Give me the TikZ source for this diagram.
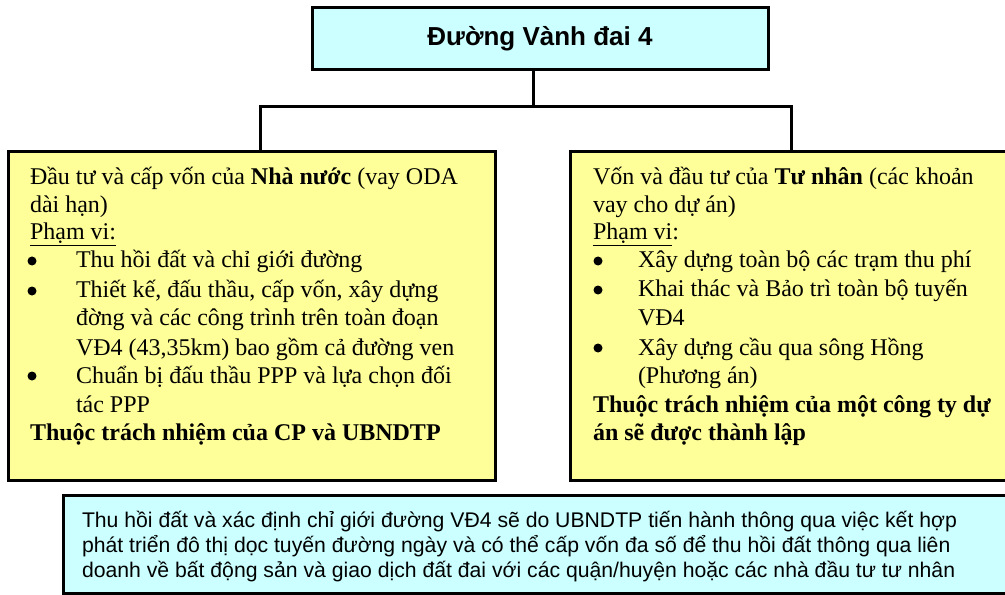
\documentclass[tikz,border=0pt]{standalone}
\usepackage{fontspec}
\setmainfont{Liberation Serif}
\setsansfont{Liberation Sans}
\definecolor{boxcyan}{HTML}{CCFFFF}
\definecolor{boxyellow}{HTML}{FFFF99}
\tikzset{
  frame/.style={draw=black, line width=3bp, inner sep=0pt, outer sep=0pt},
  conn/.style={draw=black, line width=3bp},
  ln/.style={anchor=base west, inner sep=0pt, outer sep=0pt, font=\fontsize{24bp}{28bp}\selectfont},
  dot/.style={circle, fill=black, draw=none, inner sep=0pt, outer sep=0pt, minimum size=9bp},
  sl/.style={anchor=base west, inner sep=0pt, outer sep=0pt, font=\sffamily\fontsize{21.2bp}{25bp}\selectfont},
}
\newcommand{\ul}[1]{\underline{#1}}
\begin{document}
\begin{tikzpicture}[x=1bp,y=-1bp]
\useasboundingbox (0,0) rectangle (1005,595);
% boxes
\node[frame, fill=boxcyan, minimum width=456bp, minimum height=62bp] (top) at (540,39) {};
\node[anchor=base, inner sep=0pt, font=\sffamily\bfseries\fontsize{26bp}{30bp}\selectfont] (title) at (540,46) {Đường Vành đai 4};
\node[frame, fill=boxyellow, minimum width=487bp, minimum height=328bp, anchor=north west] (left) at (8,152) {};
\node[frame, fill=boxyellow, minimum width=445bp, minimum height=328bp, anchor=north west] (right) at (570,152) {};
\node[frame, fill=boxcyan, minimum width=955bp, minimum height=98bp, anchor=north west] (bot) at (63,495) {};
% connectors
\coordinate (j) at (533,107);
\coordinate (jl) at (260,107);
\coordinate (jr) at (791,107);
\draw[conn] (j |- top.south) -- (j);
\draw[conn] (jl |- left.north) -- (jl) -- (jr) -- (jr |- right.north);
% left text
\node[ln] (l1) at (30,185) {Đầu tư và cấp vốn của \textbf{Nhà nước} (vay ODA};
\node[ln] (l2) at (30,213) {dài hạn)};
\node[ln] (l3) at (30,240) {\ul{Phạm vi:}};
\node[dot] (lb1) at (32,261) {};
\node[ln] (l4) at (76,268) {Thu hồi đất và chỉ giới đường};
\node[dot] (lb2) at (32,291) {};
\node[ln] (l5) at (76,298) {Thiết kế, đấu thầu, cấp vốn, xây dựng};
\node[dot] (lb3) at (32,376) {};
\node[ln] (l6) at (76,325) {đờng và các công trình trên toàn đoạn};
\node[ln] (l7) at (76,355) {VĐ4 (43,35km) bao gồm cả đường ven};
\node[ln] (l8) at (76,383) {Chuẩn bị đấu thầu PPP và lựa chọn đối};
\node[ln] (l9) at (76,412) {tác PPP};
\node[ln] (l10) at (30,440) {\textbf{Thuộc trách nhiệm của CP và UBNDTP}};
% right text
\node[ln] (r1) at (593,185) {Vốn và đầu tư của \textbf{Tư nhân} (các khoản};
\node[ln] (r2) at (593,213) {vay cho dự án)};
\node[ln] (r3) at (593,240) {\ul{Phạm vi}:};
\node[dot] (rb1) at (598,261) {};
\node[ln] (r4) at (638,268) {Xây dựng toàn bộ các trạm thu phí};
\node[dot] (rb2) at (598,290) {};
\node[ln] (r5) at (638,297) {Khai thác và Bảo trì toàn bộ tuyến};
\node[ln] (r6) at (638,325) {VĐ4};
\node[dot] (rb3) at (598,348) {};
\node[ln] (r7) at (638,355) {Xây dựng cầu qua sông Hồng};
\node[ln] (r8) at (638,383) {(Phương án)};
\node[ln] (r9) at (593,412) {\textbf{Thuộc trách nhiệm của một công ty dự}};
\node[ln] (r10) at (593,440) {\textbf{án sẽ được thành lập}};
% bottom text
\node[sl] (b1) at (82,527) {Thu hồi đất và xác định chỉ giới đường VĐ4 sẽ do UBNDTP tiến hành thông qua việc kết hợp};
\node[sl] (b2) at (82,552) {phát triển đô thị dọc tuyến đường ngày và có thể cấp vốn đa số để thu hồi đất thông qua liên};
\node[sl] (b3) at (82,577) {doanh về bất động sản và giao dịch đất đai với các quận/huyện hoặc các nhà đầu tư tư nhân};
\end{tikzpicture}
\end{document}
